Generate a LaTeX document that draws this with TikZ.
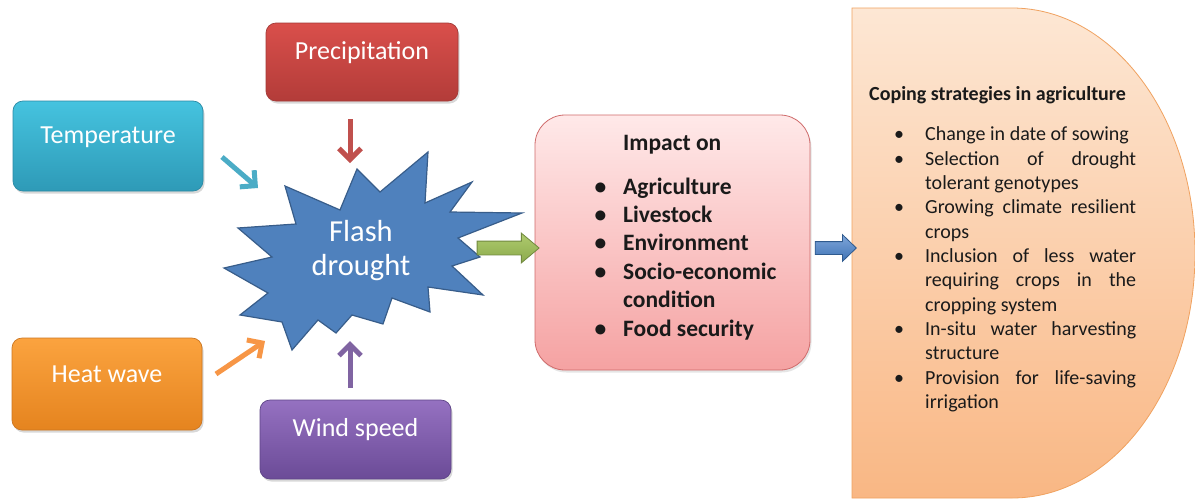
\documentclass[tikz,border=0pt]{standalone}
\usepackage{fontspec}
\setmainfont{Carlito}
\usetikzlibrary{arrows.meta,shapes.arrows,shadows}
\setlength{\parindent}{0pt}
\tolerance=9999
\hbadness=10000

% palette
\definecolor{precipTop}{HTML}{D94F4B}
\definecolor{precipBot}{HTML}{B33C39}
\definecolor{precipLine}{HTML}{A33A37}
\definecolor{tempTop}{HTML}{45C3DF}
\definecolor{tempBot}{HTML}{2E9AB7}
\definecolor{tempLine}{HTML}{2A8AA5}
\definecolor{heatTop}{HTML}{FBA33F}
\definecolor{heatBot}{HTML}{E5841F}
\definecolor{heatLine}{HTML}{CC7620}
\definecolor{windTop}{HTML}{9571C1}
\definecolor{windBot}{HTML}{6B4B97}
\definecolor{windLine}{HTML}{5E4487}
\definecolor{starFill}{HTML}{4F81BD}
\definecolor{starLine}{HTML}{385D8A}
\definecolor{impactTop}{HTML}{FFE9E9}
\definecolor{impactBot}{HTML}{F5A2A2}
\definecolor{impactLine}{HTML}{CF6B6B}
\definecolor{copingTop}{HTML}{FDE7D4}
\definecolor{copingBot}{HTML}{F9B784}
\definecolor{copingLine}{HTML}{F0A260}
\definecolor{arrRed}{HTML}{C0504D}
\definecolor{arrCyan}{HTML}{4BACC6}
\definecolor{arrOrange}{HTML}{F79646}
\definecolor{arrPurple}{HTML}{8064A2}
\definecolor{greenTop}{HTML}{AFCB6E}
\definecolor{greenBot}{HTML}{8BAA4C}
\definecolor{greenLine}{HTML}{71893F}
\definecolor{blueTop}{HTML}{7FA6DA}
\definecolor{blueBot}{HTML}{3F73B5}
\definecolor{blueLine}{HTML}{2F5A8E}
\definecolor{bodyText}{HTML}{1A1A1A}

\newcommand\impactbullet{\leavevmode\llap{\textbullet\hspace{17pt}}}
\newcommand\copingbullet{\leavevmode\llap{\textbullet\hspace{21pt}}}

\tikzset{
  causebox/.style={rectangle, rounded corners=10pt, inner sep=0pt,
    line width=0.7pt, text=white, font=\fontsize{26}{30}\selectfont,
    drop shadow={opacity=0.3, shadow xshift=1.5pt, shadow yshift=-2.5pt}},
  feed/.style={line width=5pt, -{Straight Barb[length=11pt,width=22pt]}},
  blockarrow/.style={single arrow, inner xsep=0pt, line width=0.8pt,
    single arrow head indent=0pt, shape border rotate=0}
}

\begin{document}
\begin{tikzpicture}[x=1pt,y=-1pt]
\useasboundingbox[fill=white] (0,0) rectangle (1195,499);

% coping strategies panel (D-shaped)
\draw[draw=copingLine, line width=0.8pt, top color=copingTop, bottom color=copingBot]
  (852,8) -- (1012,8) arc[start angle=-90, end angle=90, x radius=183, y radius=245]
  -- (852,498) -- cycle;
\coordinate (copingW) at (852,248);

% impact box
\node[rectangle, rounded corners=30pt, minimum width=275pt, minimum height=255pt,
      draw=impactLine, line width=0.8pt, top color=impactTop, bottom color=impactBot,
      drop shadow={opacity=0.2, shadow xshift=1.5pt, shadow yshift=-2.5pt}]
  (impact) at (672.5,242.5) {};

% cause boxes
\node[causebox, minimum width=192pt, text height=36pt, text depth=42pt,
      draw=precipLine, top color=precipTop, bottom color=precipBot]
  (precip) at (362,62) {Precipitation};
\node[causebox, minimum width=190pt, text height=42pt, text depth=48pt,
      draw=tempLine, top color=tempTop, bottom color=tempBot]
  (temp) at (108,146) {Temperature};
\node[causebox, minimum width=190pt, text height=44pt, text depth=48pt,
      draw=heatLine, top color=heatTop, bottom color=heatBot]
  (heat) at (107,384) {Heat wave};
\node[causebox, minimum width=191pt, text height=36pt, text depth=43pt,
      draw=windLine, top color=windTop, bottom color=windBot]
  (wind) at (355.5,439.5) {Wind speed};

% flash drought burst
\draw[fill=starFill, draw=starLine, line width=1.2pt, line join=miter]
  (285,186) -- (340,210) -- (357,169) -- (380,192) -- (428,152) -- (425,203)
  -- (472,182) -- (450,212) -- (522,213) -- (458,238) -- (480,257) -- (452,266)
  -- (483,295) -- (428,287) -- (430,312) -- (392,298) -- (383,324) -- (352,315)
  -- (336,333) -- (318,320) -- (292,350) -- (282,322) -- (240,315) -- (268,293)
  -- (224,268) -- (272,257) -- (238,228) -- (296,224) -- cycle;
\node[anchor=base, align=center, text=white, inner sep=0pt,
      font=\fontsize{30.5}{33.3}\selectfont]
  (flash) at (361,275) {Flash\\drought};

% feeding arrows
\coordinate (precipTail) at (350,119);
\coordinate (precipTip)  at (350,163);
\coordinate (tempTail)   at (222,157);
\coordinate (tempTip)    at (258,188);
\coordinate (heatTail)   at (216,374);
\coordinate (heatTip)    at (265,341);
\coordinate (windTail)   at (350,388);
\coordinate (windTip)    at (350,341);
\draw[feed, arrRed]    (precipTail) -- (precipTip);
\draw[feed, arrCyan]   (tempTail)   -- (tempTip);
\draw[feed, arrOrange] (heatTail)   -- (heatTip);
\draw[feed, arrPurple] (windTail)   -- (windTip);

% block arrows
\node[blockarrow, minimum height=62pt, inner ysep=6.5pt,
      single arrow head extend=8pt, single arrow tip angle=80,
      draw=greenLine, top color=greenTop, bottom color=greenBot]
  (toimpact) at (504,248) {};
\node[blockarrow, minimum height=41pt, inner ysep=6pt,
      single arrow head extend=7pt, single arrow tip angle=88,
      draw=blueLine, top color=blueTop, bottom color=blueBot]
  (tocoping) at (832.5,248) {};

% impact text
\node[anchor=base west, inner sep=0pt, text=bodyText,
      font=\bfseries\fontsize{23.5}{28.4}\selectfont]
  (impacthead) at (623,150) {Impact on};
\node[anchor=base west, inner sep=0pt, align=left, text=bodyText,
      font=\bfseries\fontsize{23.5}{28.4}\selectfont]
  (impactlist) at (623,336)
  {\impactbullet Agriculture\\
   \impactbullet Livestock\\
   \impactbullet Environment\\
   \impactbullet Socio-economic\\
   condition\\
   \impactbullet Food security};

% coping text
\node[anchor=base west, inner sep=0pt, text=bodyText,
      font=\bfseries\fontsize{20}{24.3}\selectfont]
  (copinghead) at (869,100.7) {Coping strategies in agriculture};
\node[anchor=base west, inner sep=0pt, text width=211pt, align=justify, text=bodyText,
      font=\fontsize{20}{24.33}\selectfont]
  (copinglist) at (925,140.7)
  {\copingbullet Change in date of sowing\par
   \copingbullet Selection of drought\linebreak tolerant genotypes\par
   \copingbullet Growing climate resilient\linebreak crops\par
   \copingbullet Inclusion of less water\linebreak requiring crops in the\linebreak cropping system\par
   \copingbullet In-situ water harvesting\linebreak structure\par
   \copingbullet Provision for life-saving\linebreak irrigation\par};
\end{tikzpicture}
\end{document}
